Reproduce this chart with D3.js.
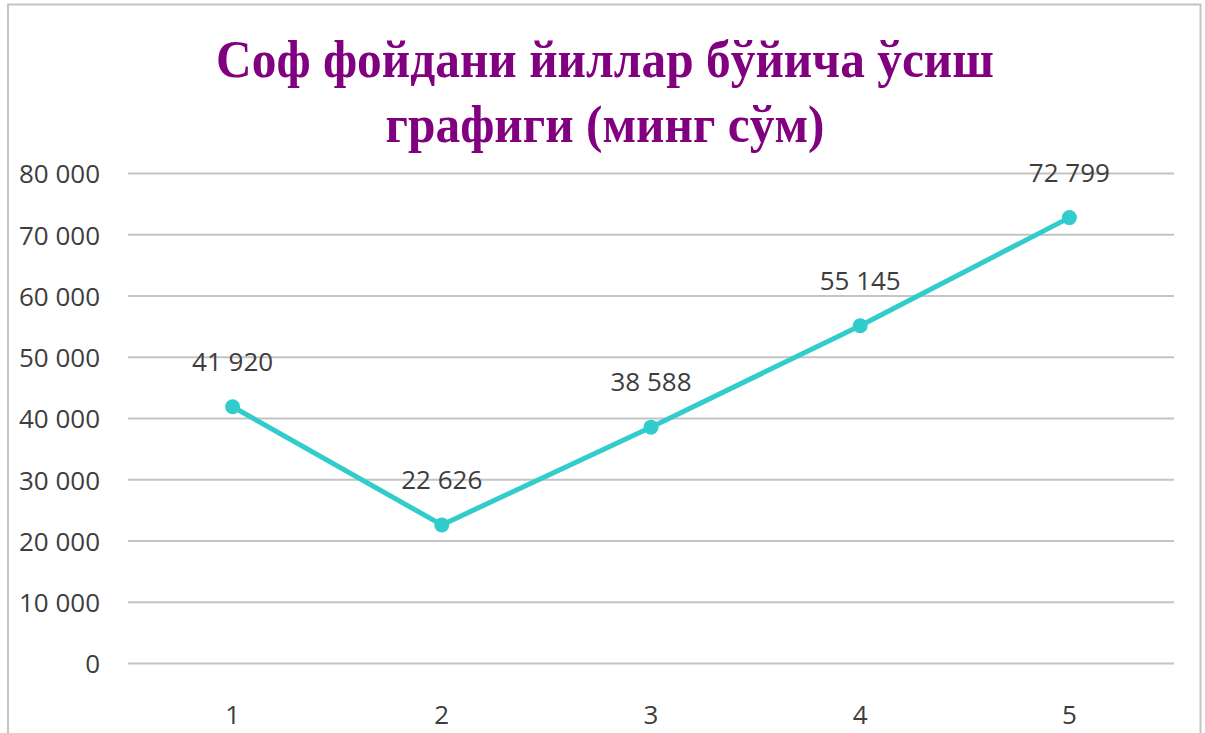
<!DOCTYPE html>
<html><head><meta charset="utf-8">
<script src="https://cdn.jsdelivr.net/npm/d3@7/dist/d3.min.js"></script>
<style>html,body{margin:0;padding:0;background:#fff;overflow:hidden}</style>
</head><body>
<svg id="c" width="1205" height="733"></svg>
<script>
const titleLines = ["Соф фойдани йиллар бўйича ўсиш", "графиги (минг сўм)"];
const categories = ["1", "2", "3", "4", "5"];
const values = [41920, 22626, 38588, 55145, 72799];
const labels = ["41 920", "22 626", "38 588", "55 145", "72 799"];
const yTicks = [0, 10000, 20000, 30000, 40000, 50000, 60000, 70000, 80000];

const svg = d3.select("#c");
const m = {left: 128, right: 1174, top: 173.5, bottom: 663.5};
const fmt = v => d3.format(",")(v).replace(/,/g, " ");

svg.append("rect").attr("x", 8).attr("y", 4.5).attr("width", 1192.5).attr("height", 800)
  .attr("fill", "#fff").attr("stroke", "#c4c4c4").attr("stroke-width", 2);

const x = d3.scaleBand().domain(categories).range([m.left, m.right]);
const y = d3.scaleLinear().domain([0, 80000]).range([m.bottom, m.top]);

// gridlines
svg.append("g").selectAll("line").data(yTicks).join("line")
  .attr("x1", m.left).attr("x2", m.right)
  .attr("y1", d => y(d)).attr("y2", d => y(d))
  .attr("stroke", "#c4c4c4").attr("stroke-width", 2);

// y axis labels
const yAxis = d3.axisLeft(y).tickValues(yTicks).tickFormat(fmt).tickSize(0).tickPadding(0);
const ya = svg.append("g").attr("transform", "translate(100,0)").call(yAxis);
ya.select(".domain").remove();
ya.selectAll("text").attr("font-family", "'Open Sans', sans-serif").attr("font-size", 26)
  .attr("fill", "#3d3d3d").attr("dy", "0.36em");

// x axis labels
const xAxis = d3.axisBottom(x).tickSize(0).tickPadding(0);
const xa = svg.append("g").attr("transform", `translate(0,${m.bottom})`).call(xAxis);
xa.select(".domain").remove();
xa.selectAll("text").attr("font-family", "'Open Sans', sans-serif").attr("font-size", 26)
  .attr("fill", "#3d3d3d").attr("dy", null).attr("y", 60);

// line
const cx = d => x(d) + x.bandwidth() / 2;
const pts = categories.map((c, i) => [cx(c), y(values[i])]);
svg.append("path").datum(pts).attr("d", d3.line())
  .attr("fill", "none").attr("stroke", "#33cccc").attr("stroke-width", 5)
  .attr("stroke-linejoin", "round");
svg.append("g").selectAll("circle").data(categories).join("circle")
  .attr("cx", d => cx(d)).attr("cy", (d, i) => y(values[i])).attr("r", 7.5)
  .attr("fill", "#33cccc");

// data labels
svg.append("g").selectAll("text").data(categories).join("text")
  .attr("x", d => cx(d)).attr("y", (d, i) => y(values[i]) - 36)
  .attr("text-anchor", "middle")
  .attr("font-family", "'Open Sans', sans-serif").attr("font-size", 26).attr("fill", "#3d3d3d")
  .text((d, i) => labels[i]);

// title
svg.append("g").attr("transform", "translate(605,0) scale(0.95,1)")
  .selectAll("text").data(titleLines).join("text")
  .attr("x", 0).attr("y", (d, i) => 77 + i * 65)
  .attr("text-anchor", "middle")
  .attr("font-family", "'Liberation Serif', 'Times New Roman', serif")
  .attr("font-weight", "bold").attr("font-size", 52).attr("fill", "#800080")
  .text(d => d);
</script>
</body></html>
